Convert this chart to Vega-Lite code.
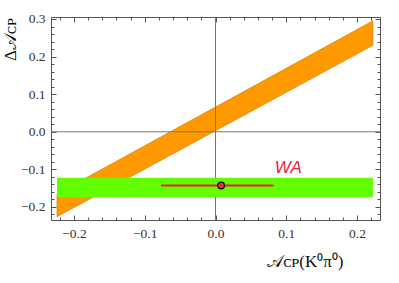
{
  "$schema": "https://vega.github.io/schema/vega-lite/v6.json",
  "width": 329,
  "height": 203,
  "autosize": {"type": "none"},
  "padding": {"left": 51, "top": 17, "right": 19, "bottom": 63},
  "background": "white",
  "config": {
    "view": {"stroke": "#555555", "strokeWidth": 1},
    "axis": {
      "domain": false,
      "grid": false,
      "labelFont": "Liberation Serif",
      "labelFontSize": 13,
      "labelColor": "#333333",
      "tickColor": "#555555",
      "titleFont": "Liberation Serif",
      "titleColor": "#111111",
      "titleFontWeight": "normal"
    }
  },
  "datasets": {
    "band": [
      {"x": -0.224, "lo": -0.226, "hi": -0.165},
      {"x": 0.2225, "lo": 0.230, "hi": 0.295}
    ],
    "wa": [
      {"x1": -0.224, "x2": 0.2225, "y1": -0.174, "y2": -0.122}
    ],
    "meas": [
      {"x": 0.008, "xlo": -0.077, "xhi": 0.082, "y": -0.143, "label": "WA", "lx": 0.103, "ly": -0.109}
    ],
    "zero": [
      {"v": 0}
    ]
  },
  "resolve": {"axis": {"x": "independent", "y": "independent"}},
  "layer": [
    {
      "data": {"name": "band"},
      "mark": {"type": "area", "color": "#FF9900", "stroke": "#D98000", "strokeWidth": 0.7, "opacity": 1},
      "encoding": {
        "x": {"field": "x", "type": "quantitative",
          "scale": {"domain": [-0.2325, 0.2325], "nice": false, "zero": false},
          "axis": {"orient": "bottom", "values": [-0.2, -0.1, 0, 0.1, 0.2], "format": ".1f", "ticks": false, "labelPadding": 6,
            "labelFont": "Liberation Serif", "labelFontSize": 13.5,
            "title": "𝒜ᴄᴘ(K⁰π⁰)", "titleFontSize": 17, "titleAnchor": "start", "titleAlign": "center", "titleX": 254, "titleY": 46, "titleBaseline": "alphabetic"}},
        "y": {"field": "lo", "type": "quantitative",
          "scale": {"domain": [-0.2347, 0.3053], "nice": false, "zero": false},
          "axis": {"orient": "left", "values": [-0.2, -0.1, 0, 0.1, 0.2, 0.3], "format": ".1f", "ticks": false, "labelPadding": 6,
            "labelFont": "Liberation Serif", "labelFontSize": 13.5,
            "title": "Δ𝒜ᴄᴘ", "titleFontSize": 17, "titleAngle": -90, "titleAlign": "center", "titleX": -36, "titleY": 22, "titleBaseline": "alphabetic"}},
        "y2": {"field": "hi"}
      }
    },
    {
      "data": {"name": "zero"},
      "mark": {"type": "rule", "color": "#777777", "strokeWidth": 1},
      "encoding": {
        "y": {"field": "v", "type": "quantitative", "scale": {"domain": [-0.2347, 0.3053], "nice": false, "zero": false}, "axis": null}
      }
    },
    {
      "data": {"name": "zero"},
      "mark": {"type": "rule", "color": "#777777", "strokeWidth": 1},
      "encoding": {
        "x": {"field": "v", "type": "quantitative", "scale": {"domain": [-0.2325, 0.2325], "nice": false, "zero": false}, "axis": null}
      }
    },
    {
      "data": {"name": "wa"},
      "mark": {"type": "rect", "color": "#62FF00", "opacity": 1},
      "encoding": {
        "x": {"field": "x1", "type": "quantitative", "scale": {"domain": [-0.2325, 0.2325], "nice": false, "zero": false},
          "axis": {"orient": "bottom", "values": [-0.2, -0.1, 0, 0.1, 0.2], "labels": false, "tickSize": -5, "title": null}},
        "x2": {"field": "x2"},
        "y": {"field": "y1", "type": "quantitative", "scale": {"domain": [-0.2347, 0.3053], "nice": false, "zero": false},
          "axis": {"orient": "left", "values": [-0.2, -0.1, 0, 0.1, 0.2, 0.3], "labels": false, "tickSize": -5, "title": null}},
        "y2": {"field": "y2"}
      }
    },
    {
      "data": {"name": "meas"},
      "mark": {"type": "rule", "stroke": "#EE1C3A", "strokeWidth": 2, "opacity": 1},
      "encoding": {
        "x": {"field": "xlo", "type": "quantitative", "scale": {"domain": [-0.2325, 0.2325], "nice": false, "zero": false},
          "axis": {"orient": "top", "values": [-0.2, -0.1, 0, 0.1, 0.2], "labels": false, "tickSize": -5, "title": null}},
        "x2": {"field": "xhi"},
        "y": {"field": "y", "type": "quantitative", "scale": {"domain": [-0.2347, 0.3053], "nice": false, "zero": false},
          "axis": {"orient": "right", "values": [-0.2, -0.1, 0, 0.1, 0.2, 0.3], "labels": false, "tickSize": -5, "title": null}}
      }
    },
    {
      "data": {"name": "meas"},
      "mark": {"type": "point", "shape": "circle", "filled": true, "fill": "#E8283C", "stroke": "#111111", "strokeWidth": 1.2, "size": 45, "opacity": 1},
      "encoding": {
        "x": {"field": "x", "type": "quantitative", "scale": {"domain": [-0.2325, 0.2325], "nice": false, "zero": false},
          "axis": {"orient": "bottom", "values": [-0.22, -0.18, -0.16, -0.14, -0.12, -0.08, -0.06, -0.04, -0.02, 0.02, 0.04, 0.06, 0.08, 0.12, 0.14, 0.16, 0.18, 0.22], "labels": false, "tickSize": -3, "title": null}},
        "y": {"field": "y", "type": "quantitative", "scale": {"domain": [-0.2347, 0.3053], "nice": false, "zero": false},
          "axis": {"orient": "left", "values": [-0.22, -0.18, -0.16, -0.14, -0.12, -0.08, -0.06, -0.04, -0.02, 0.02, 0.04, 0.06, 0.08, 0.12, 0.14, 0.16, 0.18, 0.22, 0.24, 0.26, 0.28], "labels": false, "tickSize": -3, "title": null}}
      }
    },
    {
      "data": {"name": "meas"},
      "mark": {"type": "text", "color": "#E8243C", "font": "Liberation Sans", "fontStyle": "italic", "fontSize": 17, "align": "center", "baseline": "alphabetic"},
      "encoding": {
        "x": {"field": "lx", "type": "quantitative", "scale": {"domain": [-0.2325, 0.2325], "nice": false, "zero": false},
          "axis": {"orient": "top", "values": [-0.22, -0.18, -0.16, -0.14, -0.12, -0.08, -0.06, -0.04, -0.02, 0.02, 0.04, 0.06, 0.08, 0.12, 0.14, 0.16, 0.18, 0.22], "labels": false, "tickSize": -3, "title": null}},
        "y": {"field": "ly", "type": "quantitative", "scale": {"domain": [-0.2347, 0.3053], "nice": false, "zero": false},
          "axis": {"orient": "right", "values": [-0.22, -0.18, -0.16, -0.14, -0.12, -0.08, -0.06, -0.04, -0.02, 0.02, 0.04, 0.06, 0.08, 0.12, 0.14, 0.16, 0.18, 0.22, 0.24, 0.26, 0.28], "labels": false, "tickSize": -3, "title": null}},
        "text": {"field": "label"}
      }
    }
  ]
}
